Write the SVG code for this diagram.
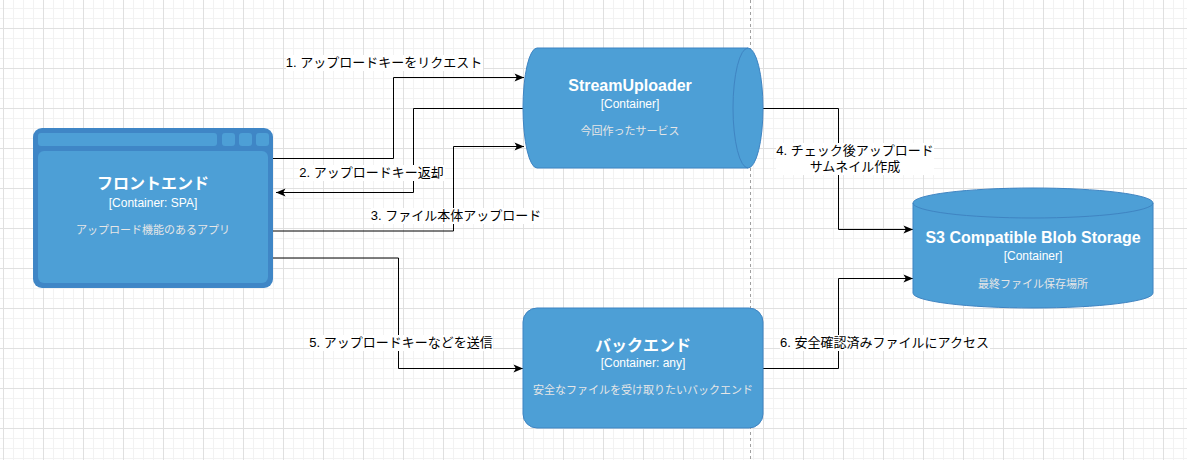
<svg xmlns="http://www.w3.org/2000/svg" width="1187" height="460" viewBox="0 0 1187 460">
<defs>
<pattern id="grid" width="40" height="40" patternUnits="userSpaceOnUse" x="3" y="28">
<path d="M10.5 0V40M20.5 0V40M30.5 0V40M0 10.5H40M0 20.5H40M0 30.5H40" stroke="#f2f2f2" stroke-width="1" fill="none"/>
<path d="M0.5 0V40M0 0.5H40" stroke="#e0e0e0" stroke-width="1" fill="none"/>
</pattern>
<marker id="arr" markerWidth="12" markerHeight="10" refX="10" refY="5" orient="auto" markerUnits="userSpaceOnUse">
<path d="M0.5,1 L10,5 L0.5,9 L2.8,5 Z" fill="#000"/>
</marker>
<style>
.node{fill:#4D9FD6;stroke:#3F84C2;stroke-width:1}
.frame{fill:#3F86C6}
.inner{fill:#4D9FD6}
.t{font-family:"Liberation Sans","Noto Sans CJK JP",sans-serif;text-anchor:middle;fill:#fff}
.title{font-size:16px;font-weight:bold}
.sub{font-size:12px}
.desc{font-size:11px;fill:#E6E6E6}
.edge{fill:none;stroke:#000;stroke-width:1}
.lbl{font-family:"Liberation Sans","Noto Sans CJK JP",sans-serif;font-size:13px;fill:#000;text-anchor:middle}
.lblbg{fill:#fff}
</style>
</defs>
<rect width="1187" height="460" fill="#fff"/>
<rect width="1187" height="460" fill="url(#grid)"/>
<line x1="750.5" y1="0" x2="750.5" y2="460" stroke="#a0a0a0" stroke-width="1" stroke-dasharray="3 3"/>

<g id="connectors">
<path class="edge" d="M273 158.5 H393.5 V77.5 H524" marker-end="url(#arr)"/>
<path class="edge" d="M523 108.5 H413.5 V192.5 H276" marker-end="url(#arr)"/>
<path class="edge" d="M273 231 H453.5 V146.5 H524" marker-end="url(#arr)"/>
<path class="edge" d="M763 108.5 H838.5 V229.5 H913" marker-end="url(#arr)"/>
<path class="edge" d="M273 258 H398.5 V368.5 H523" marker-end="url(#arr)"/>
<path class="edge" d="M763 368.5 H838.5 V278.5 H913" marker-end="url(#arr)"/>
<g id="edge-labels">
<rect class="lblbg" x="286" y="55" width="197" height="16"/>
<text class="lbl" x="384" y="67">1. アップロードキーをリクエスト</text>
<rect class="lblbg" x="299" y="165" width="146" height="16"/>
<text class="lbl" x="371.5" y="177">2. アップロードキー返却</text>
<rect class="lblbg" x="371" y="208" width="172" height="16"/>
<text class="lbl" x="456" y="220">3. ファイル本体アップロード</text>
<rect class="lblbg" x="776" y="143" width="158" height="32"/>
<text class="lbl" x="855" y="155">4. チェック後アップロード</text>
<text class="lbl" x="855" y="171">サムネイル作成</text>
<rect class="lblbg" x="310" y="335" width="183" height="16"/>
<text class="lbl" x="401" y="347">5. アップロードキーなどを送信</text>
<rect class="lblbg" x="780" y="335" width="210" height="16"/>
<text class="lbl" x="884.5" y="347">6. 安全確認済みファイルにアクセス</text>
</g>
</g>

<g id="frontend">
<rect class="frame" x="33" y="128" width="240" height="160" rx="9"/>
<rect class="inner" x="38" y="133" width="179" height="13" rx="3"/>
<rect class="inner" x="222" y="133" width="13" height="13" rx="3"/>
<rect class="inner" x="239" y="133" width="13" height="13" rx="3"/>
<rect class="inner" x="256" y="133" width="13" height="13" rx="3"/>
<rect class="inner" x="38" y="151" width="230" height="132" rx="6"/>
<text class="t title" x="153" y="189">フロントエンド</text>
<text class="t sub" x="153" y="207">[Container: SPA]</text>
<text class="t desc" x="153" y="234">アップロード機能のあるアプリ</text>
</g>

<g id="streamuploader">
<path class="node" d="M537 48 H748 A15 60 0 0 1 748 168 H537 A14 60 0 0 1 537 48 Z"/>
<path fill="none" stroke="#3F84C2" stroke-width="1" d="M748 48 A15 60 0 0 0 748 168"/>
<text class="t title" x="630" y="91">StreamUploader</text>
<text class="t sub" x="630" y="108">[Container]</text>
<text class="t desc" x="630" y="135">今回作ったサービス</text>
</g>

<g id="s3">
<path class="node" d="M913 203 A120 15 0 0 1 1153 203 V293 A120 15 0 0 1 913 293 Z"/>
<path fill="none" stroke="#3F84C2" stroke-width="1" d="M913 203 A120 15 0 0 0 1153 203"/>
<text class="t title" x="1033" y="243">S3 Compatible Blob Storage</text>
<text class="t sub" x="1033" y="260">[Container]</text>
<text class="t desc" x="1033" y="288">最終ファイル保存場所</text>
</g>

<g id="backend">
<rect class="node" x="523" y="308" width="240" height="120" rx="14"/>
<text class="t title" x="643" y="351">バックエンド</text>
<text class="t sub" x="643" y="367">[Container: any]</text>
<text class="t desc" x="643" y="394">安全なファイルを受け取りたいバックエンド</text>
</g>
</svg>
